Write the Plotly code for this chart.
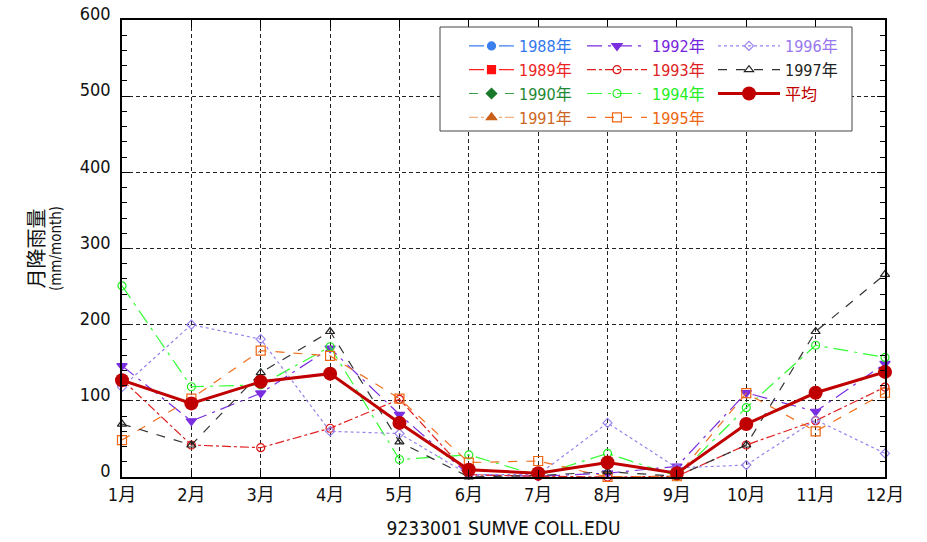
import plotly.graph_objects as go

# Monthly rainfall (mm/month), station 9233001 SUMVE COLL.EDU
months = ["1月", "2月", "3月", "4月", "5月", "6月", "7月", "8月", "9月", "10月", "11月", "12月"]

y1988 = [None] * 12
y1989 = [None] * 12
y1990 = [None] * 12
y1991 = [None] * 12
y1992 = [146, 73.5, 110, 169, 82, 3, 1, 5, 14, 110.6, 86, 149]
y1993 = [128, 42, 38.5, 64, 102, 3, 1, 0, 1, 42, 74, 118]
y1994 = [251, 118.5, 121, 171, 23, 29, 2, 31, 1, 91, 173, 157]
y1995 = [48.5, 103, 166, 159, 103, 19, 21, 0, 1, 110, 60, 110.6]
y1996 = [118, 200, 181, 60, 57, 3, 3, 71, 12, 15.7, 75, 31]
y1997 = [69.5, 42, 137, 191, 46, 0, 2, 7, 1, 42, 191, 266]
y_mean = [127, 96.6, 125, 135.7, 71, 9.5, 5, 19, 5, 69.5, 110.6, 138]

FONT = "DejaVu Sans Condensed, Liberation Sans Narrow, Noto Sans CJK JP, sans-serif"

# (label, values, line colour, marker colour, text colour, dash, symbol, size, legend)
series = [
    ("1988年", y1988, "#3a7ff0", "#3a7ff0", "#3377ee", "longdash", "circle", 8, "legend"),
    ("1989年", y1989, "#ff2020", "#ff1010", "#ee2222", "longdash", "square", 8, "legend"),
    ("1990年", y1990, "#3aa04a", "#1a7a2a", "#228833", "dash", "diamond", 8, "legend"),
    ("1991年", y1991, "#f0b080", "#c8601a", "#cc6622", "dashdot", "triangle-up", 9, "legend"),
    ("1992年", y1992, "#7a2ee0", "#7a2ee0", "#7722dd", "longdashdot", "triangle-down", 9, "legend2"),
    ("1993年", y1993, "#e02020", "#dd1111", "#dd2222", "dashdot", "circle-open", 8, "legend2"),
    ("1994年", y1994, "#33ff33", "#22ee22", "#22ee22", "longdashdot", "circle-open", 8, "legend2"),
    ("1995年", y1995, "#f07020", "#ee6611", "#ee6611", "dash", "square-open", 9, "legend2"),
    ("1996年", y1996, "#9980ee", "#9980ee", "#9977ee", "dot", "diamond-open", 7, "legend3"),
    ("1997年", y1997, "#333333", "#222222", "#222222", "dash", "triangle-up-open", 8, "legend3"),
]

fig = go.Figure()
for name, vals, lc, mc, tc, dash, sym, size, lg in series:
    fig.add_trace(go.Scatter(
        x=months, y=vals, mode="lines+markers",
        name=f'<span style="color:{tc}">{name}</span>',
        line=dict(color=lc, width=1.2, dash=dash),
        marker=dict(symbol=sym, size=size, color=mc, line=dict(color=mc, width=1.2)),
        legend=lg, cliponaxis=False,
    ))

fig.add_trace(go.Scatter(
    x=months, y=y_mean, mode="lines+markers",
    name='<span style="color:#c00000">平均</span>',
    line=dict(color="#c00000", width=3),
    marker=dict(symbol="circle", size=14, color="#c00000"),
    legend="legend3", cliponaxis=False,
))

def px_x(p):
    return (p - 122) / 763

def px_y(p):
    return (477 - p) / 457

legend_common = dict(
    bgcolor="rgba(0,0,0,0)", borderwidth=0, orientation="v",
    xanchor="left", yanchor="top", y=px_y(29),
    font=dict(family=FONT, size=16), traceorder="normal",
)

fig.update_layout(
    width=927, height=542,
    margin=dict(l=122, r=42, t=20, b=65),
    paper_bgcolor="white", plot_bgcolor="white",
    font=dict(family=FONT, size=18, color="#111"),
    legend=dict(**legend_common, x=px_x(464), itemwidth=45),
    legend2=dict(**legend_common, x=px_x(582), itemwidth=60),
    legend3=dict(**legend_common, x=px_x(713), itemwidth=62),
    shapes=[dict(
        type="rect", xref="paper", yref="paper",
        x0=px_x(440), x1=px_x(852), y0=px_y(131), y1=px_y(27),
        fillcolor="white", line=dict(color="#444", width=1), layer="above",
    )],
    xaxis=dict(
        type="category", range=[0, 11], automargin=False,
        showgrid=True, gridcolor="#222", gridwidth=1, griddash="4px,3px",
        showline=True, linecolor="black", linewidth=1.5, mirror="ticks",
        ticks="inside", ticklen=7, tickcolor="black", ticklabelstandoff=1,
        tickfont=dict(family=FONT, size=18),
        title=dict(text="9233001 SUMVE COLL.EDU", font=dict(family=FONT, size=19), standoff=17),
        zeroline=False,
    ),
    yaxis=dict(
        range=[0, 600], dtick=100, tick0=0, automargin=False,
        showgrid=True, gridcolor="#222", gridwidth=1, griddash="4px,3px",
        showline=True, linecolor="black", linewidth=1.5, mirror="ticks",
        ticks="inside", ticklen=8, tickcolor="black",
        ticklabelshift=-6, ticklabelstandoff=6,
        minor=dict(dtick=20, ticks="inside", ticklen=5, tickcolor="black", showgrid=False),
        tickfont=dict(family=FONT, size=18),
        title=dict(
            text='<span style="font-size:20px">月降雨量</span><br>'
                 '<span style="font-size:15px">(mm/month)</span>',
            font=dict(family=FONT, size=13), standoff=15,
        ),
        zeroline=False,
    ),
)

fig.write_html("out.html")
